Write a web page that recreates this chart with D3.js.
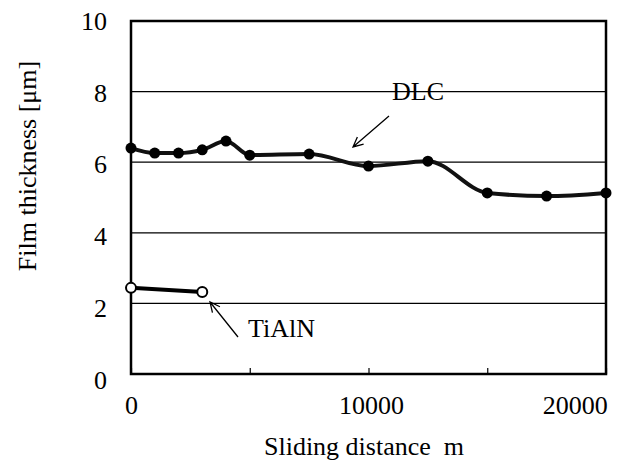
<!DOCTYPE html>
<html lang="en">
  <head>
    <meta charset="UTF-8" />
    <script src="https://d3js.org/d3.v7.min.js"></script>
    <title>Film thickness</title>
    <style>
      body { margin: 0; background: #fff; }
      svg text { font-family: "Liberation Serif", "Times New Roman", serif; fill: #000; }
    </style>
  </head>
  <body>
    <svg width="617" height="466"></svg>
    <script>
      // data
      var dlcDistance = [0, 1000, 2000, 3000, 4000, 5000, 7500, 10000, 12500, 15000, 17500, 20000];
      var dlcThickness = [6.40, 6.26, 6.26, 6.35, 6.60, 6.20, 6.23, 5.89, 6.03, 5.13, 5.04, 5.13];
      var tialnDistance = [0, 3000];
      var tialnThickness = [2.44, 2.32];
      var xTicks = [0, 5000, 10000, 15000, 20000];
      var xLabels = [0, 10000, 20000];
      var yTicks = [0, 2, 4, 6, 8, 10];

      var font = "'Liberation Serif', 'Times New Roman', serif";
      var fs = 26;

      var svg = d3.select("svg"),
        margin = { top: 21, right: 11, bottom: 92, left: 131 },
        width = +svg.attr("width") - margin.left - margin.right,
        height = +svg.attr("height") - margin.top - margin.bottom,
        g = svg.append("g").attr("transform", "translate(" + margin.left + "," + margin.top + ")");

      var x = d3.scaleLinear().domain([0, 20000]).range([0, width]);
      var y = d3.scaleLinear().domain([0, 10]).range([height, 0]);
      // tick labels in the original sit a little further apart than the gridlines
      var yLab = d3.scaleLinear().domain([0, 10]).range([height + 6, 0]);

      // gridlines
      g.append("g")
        .selectAll("line")
        .data(yTicks.filter(function (d) { return d > 0 && d < 10; }))
        .enter()
        .append("line")
        .attr("x1", 0)
        .attr("x2", width)
        .attr("y1", function (d) { return y(d); })
        .attr("y2", function (d) { return y(d); })
        .attr("stroke", "#000")
        .attr("stroke-width", 1.3);

      // frame
      g.append("rect")
        .attr("width", width)
        .attr("height", height)
        .attr("fill", "none")
        .attr("stroke", "#000")
        .attr("stroke-width", 2.5);

      // x axis: inward ticks every 5000, labels every 10000
      var xAxis = g.append("g")
        .attr("transform", "translate(0," + height + ")")
        .attr("font-family", font)
        .attr("font-size", fs)
        .call(d3.axisBottom(x).tickValues(xTicks).tickSize(-6).tickPadding(22)
          .tickFormat(function (d) { return xLabels.indexOf(d) >= 0 ? d : ""; }));
      xAxis.attr("font-family", font).attr("font-size", fs);
      xAxis.select(".domain").remove();
      xAxis.selectAll(".tick line").attr("stroke", "#000").attr("stroke-width", 1.2);
      xAxis.selectAll("text")
        .attr("text-anchor", function (d) { return d === 20000 ? "end" : "middle"; })
        .attr("dx", function (d) { return d === 20000 ? "0.05em" : (d === 10000 ? "0.1em" : 0); });

      var yAxis = g.append("g")
        .call(d3.axisLeft(yLab).tickValues(yTicks).tickSize(0).tickPadding(24));
      yAxis.attr("font-family", font).attr("font-size", fs);
      yAxis.select(".domain").remove();

      // axis titles
      svg.append("text")
        .attr("transform", "translate(36," + (margin.top + 145) + ") rotate(-90)")
        .attr("text-anchor", "middle")
        .attr("font-family", font)
        .attr("font-size", fs)
        .text("Film thickness [μm]");

      svg.append("text")
        .attr("x", 364)
        .attr("y", 455)
        .attr("text-anchor", "middle")
        .attr("font-family", font)
        .attr("font-size", fs)
        .style("white-space", "pre")
        .text("Sliding distance  m");

      // series
      var dlc = dlcDistance.map(function (d, i) { return [d, dlcThickness[i]]; });
      var tialn = tialnDistance.map(function (d, i) { return [d, tialnThickness[i]]; });

      var smooth = d3.line()
        .x(function (d) { return x(d[0]); })
        .y(function (d) { return y(d[1]); })
        .curve(d3.curveMonotoneX);
      var straight = d3.line()
        .x(function (d) { return x(d[0]); })
        .y(function (d) { return y(d[1]); });

      g.append("path")
        .datum(dlc)
        .attr("d", smooth)
        .attr("fill", "none")
        .attr("stroke", "#111")
        .attr("stroke-width", 4);

      g.append("g")
        .selectAll("circle")
        .data(dlc)
        .enter()
        .append("circle")
        .attr("cx", function (d) { return x(d[0]); })
        .attr("cy", function (d) { return y(d[1]); })
        .attr("r", 5.5)
        .attr("fill", "#000");

      g.append("path")
        .datum(tialn)
        .attr("d", straight)
        .attr("fill", "none")
        .attr("stroke", "#000")
        .attr("stroke-width", 4);

      g.append("g")
        .selectAll("circle")
        .data(tialn)
        .enter()
        .append("circle")
        .attr("cx", function (d) { return x(d[0]); })
        .attr("cy", function (d) { return y(d[1]); })
        .attr("r", 5)
        .attr("fill", "#fff")
        .attr("stroke", "#000")
        .attr("stroke-width", 2);

      // annotations with open arrowheads
      function arrow(x1, y1, x2, y2) {
        var a = Math.atan2(y2 - y1, x2 - x1), len = 11, spread = 0.45;
        var p = d3.path();
        p.moveTo(x1, y1);
        p.lineTo(x2, y2);
        p.moveTo(x2 - len * Math.cos(a - spread), y2 - len * Math.sin(a - spread));
        p.lineTo(x2, y2);
        p.lineTo(x2 - len * Math.cos(a + spread), y2 - len * Math.sin(a + spread));
        svg.append("path")
          .attr("d", p.toString())
          .attr("fill", "none")
          .attr("stroke", "#000")
          .attr("stroke-width", 1.3);
      }
      arrow(389, 116, 353, 147);
      arrow(238, 337, 210, 302);

      svg.append("text").attr("x", 392).attr("y", 100)
        .attr("font-family", font).attr("font-size", fs).text("DLC");
      svg.append("text").attr("x", 248).attr("y", 337)
        .attr("font-family", font).attr("font-size", fs).text("TiAlN");
    </script>
  </body>
</html>
